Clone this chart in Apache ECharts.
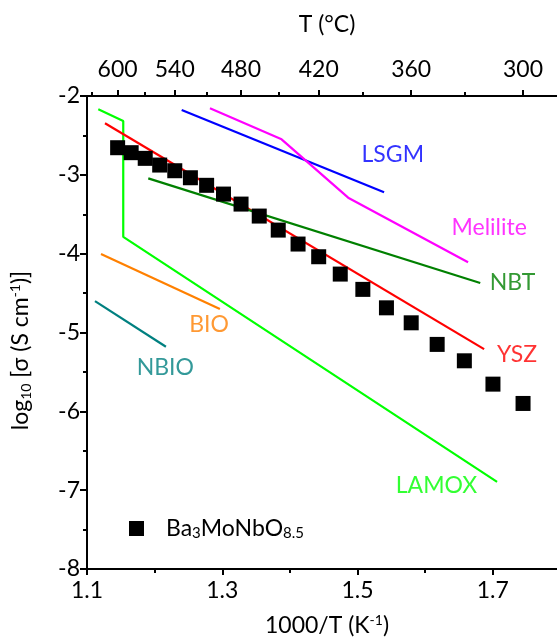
<!DOCTYPE html>
<html><head><meta charset="utf-8">
<script src="https://cdn.jsdelivr.net/npm/echarts@6/dist/echarts.min.js"></script>
<style>html,body{margin:0;padding:0;background:#fff}#c{width:557px;height:640px}</style>
</head><body><div id="c"></div>
<script>
// Ba3MoNbO8.5 measured points (x = 1000/T, y = log10 sigma)
const baX = [1.1453,1.1653,1.1861,1.2075,1.2298,1.2529,1.2769,1.3018,1.3278,1.3547,1.3828,1.4121,1.4426,1.4745,1.5079,1.5428,1.5794,1.6178,1.6580,1.7003,1.7448];
const baY = [-2.656,-2.719,-2.791,-2.876,-2.948,-3.037,-3.133,-3.244,-3.371,-3.523,-3.701,-3.878,-4.039,-4.259,-4.453,-4.687,-4.877,-5.151,-5.359,-5.655,-5.900];

// reference materials (polylines)
const lamox    = [[1.1167,-2.169],[1.1536,-2.317],[1.1536,-3.786],[1.7064,-6.894]];
const ysz      = [[1.1266,-2.346],[1.6872,-5.211]];
const lsgm     = [[1.2400,-2.178],[1.5393,-3.222]];
const melilite = [[1.2818,-2.156],[1.3877,-2.550],[1.4862,-3.290],[1.6635,-4.110]];
const nbt      = [[1.1906,-3.045],[1.6815,-4.373]];
const bio      = [[1.1207,-4.005],[1.2965,-4.703]];
const nbio     = [[1.1118,-4.602],[1.2167,-5.181]];

// tick labels
const xTicks = [1.1, 1.3, 1.5, 1.7];
const xMinorTicks = [1.2, 1.4, 1.6];
const topMajorC = [600, 540, 480, 420, 360, 300];
const topMinorC = [630, 570, 510, 450, 390, 330];

// in-plot series labels (anchored in data coordinates)
const labelNames = ['LSGM', 'Melilite', 'NBT', 'YSZ', 'BIO', 'NBIO', 'LAMOX'];
const labelX = [1.506, 1.639, 1.6955, 1.7063, 1.2512, 1.1734, 1.5566];
const labelY = [-2.749, -3.666, -4.369, -5.274, -4.902, -5.448, -6.947];

const C = {LSGM:'#0000ff', Melilite:'#ff00ff', NBT:'#008000', YSZ:'#ff0000', BIO:'#ff8000', NBIO:'#008080', LAMOX:'#00ff00'};
const FONT = 'Lato, "Open Sans", "DejaVu Sans", sans-serif';
const toInvT = c => 1000 / (c + 273.15);

const chart = echarts.init(document.getElementById('c'));
const axisLine = {show:true, onZero:false, lineStyle:{color:'#000', width:2}};
const tickStyle = {color:'#000', width:2};
const labelStyle = {fontFamily:FONT, fontSize:23, color:'#000'};
const xMin = 1.1, xMax = 1.795;

function lineSeries(name, data) {
  return {name, type:'line', data, xAxisIndex:0, yAxisIndex:0, symbol:'none',
    lineStyle:{color:C[name], width:2.2}, itemStyle:{color:C[name]}, z:2, silent:true, animation:false};
}

chart.setOption({
  animation:false,
  backgroundColor:'#fff',
  grid:{left:87, right:0, top:96, bottom:71, outerBoundsMode:'none', containLabel:false},
  legend:{
    data:['Ba3MoNbO8.5'], left:124, top:512, itemWidth:15, itemHeight:15, icon:'rect',
    formatter:() => 'Ba{sub|3}MoNbO{sub|8.5}',
    textStyle:{fontFamily:FONT, fontSize:23, color:'#000', padding:[0,0,0,17],
      rich:{sub:{fontFamily:FONT, fontSize:15, color:'#000', padding:[10,0,0,0]}}}
  },
  xAxis:[
    {type:'value', position:'bottom', min:xMin, max:xMax, axisLine,
     axisTick:{show:true, customValues:xTicks, length:6, lineStyle:tickStyle},
     axisLabel:{...labelStyle, customValues:xTicks, margin:10, formatter:v => v.toFixed(1)},
     splitLine:{show:false},
     name:'1000/T (K{sup|-1})', nameLocation:'middle', nameGap:44,
     nameTextStyle:{...labelStyle, padding:[0,0,0,10], rich:{sup:{fontFamily:FONT, fontSize:14, color:'#000', padding:[0,0,12,0]}}}},
    {type:'value', position:'top', min:xMin, max:xMax, axisLine,
     axisTick:{show:true, customValues:topMajorC.map(toInvT), length:6, lineStyle:tickStyle},
     axisLabel:{...labelStyle, customValues:topMajorC.map(toInvT), margin:15, formatter:v => String(Math.round(1000 / v - 273.15))},
     splitLine:{show:false},
     name:'T (°C)', nameLocation:'middle', nameGap:60, nameTextStyle:{...labelStyle, padding:[0,0,0,10]}},
    {type:'value', position:'bottom', min:xMin, max:xMax, axisLine:{show:false},
     axisTick:{show:true, customValues:xMinorTicks, length:4, lineStyle:tickStyle},
     axisLabel:{show:false}, splitLine:{show:false}},
    {type:'value', position:'top', min:xMin, max:xMax, axisLine:{show:false},
     axisTick:{show:true, customValues:topMinorC.map(toInvT), length:4, lineStyle:tickStyle},
     axisLabel:{show:false}, splitLine:{show:false}}
  ],
  yAxis:[{
    type:'value', min:-8, max:-2, interval:1, axisLine,
    axisTick:{show:true, length:7, lineStyle:tickStyle},
    minorTick:{show:true, splitNumber:2, length:4, lineStyle:tickStyle},
    axisLabel:{...labelStyle, margin:7},
    splitLine:{show:false}, minorSplitLine:{show:false},
    name:'log{sub|10} [σ (S cm{sup|-1})]', nameLocation:'middle', nameGap:53,
    nameTextStyle:{...labelStyle, padding:[0,36,0,0],
      rich:{sub:{fontFamily:FONT, fontSize:14, color:'#000', padding:[10,0,0,0]},
            sup:{fontFamily:FONT, fontSize:14, color:'#000', padding:[0,0,12,0]}}}
  }],
  series:[
    lineSeries('LAMOX', lamox),
    lineSeries('YSZ', ysz),
    lineSeries('LSGM', lsgm),
    lineSeries('Melilite', melilite),
    lineSeries('NBT', nbt),
    lineSeries('BIO', bio),
    lineSeries('NBIO', nbio),
    {name:'Ba3MoNbO8.5', type:'scatter', symbol:'rect', symbolSize:15, z:5,
     itemStyle:{color:'#000', opacity:1}, data:baX.map((x, i) => [x, baY[i]])},
    {name:'labels', type:'scatter', symbolSize:0, silent:true, z:6,
     data:labelNames.map((n, i) => ({value:[labelX[i], labelY[i]],
       label:{show:true, position:'right', distance:0, formatter:n, color:C[n], fontFamily:FONT, fontSize:23}}))}
  ]
});
</script></body></html>
